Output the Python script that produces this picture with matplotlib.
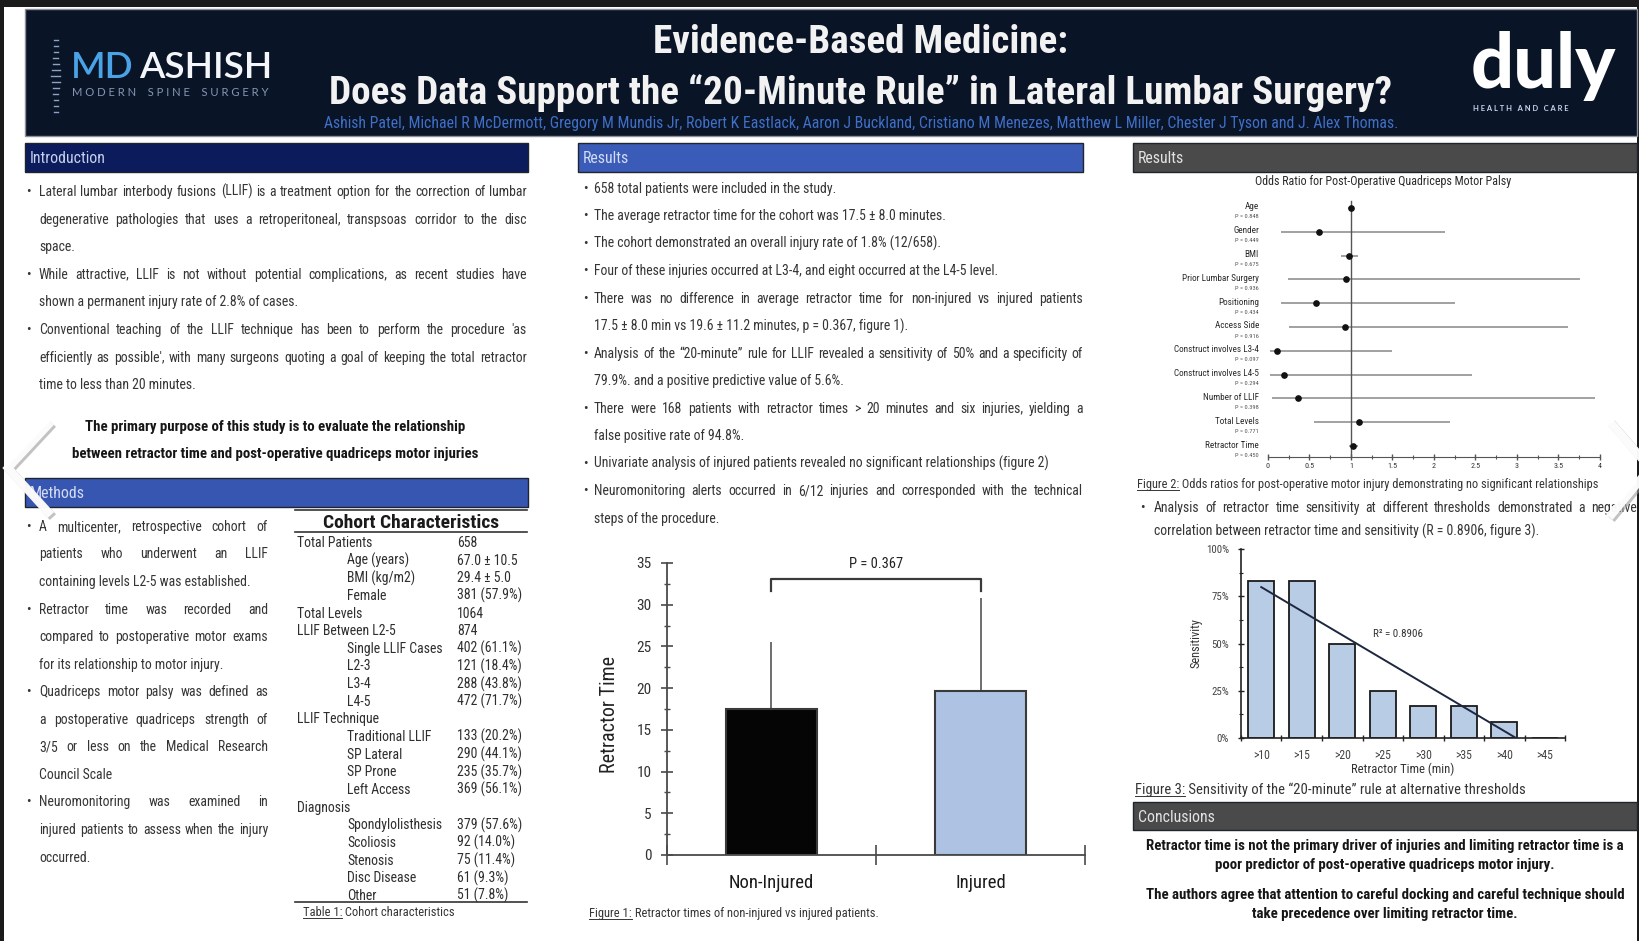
import matplotlib
matplotlib.use('Agg')
import matplotlib.pyplot as plt
import numpy as np
from matplotlib import font_manager as fm
from matplotlib.patches import Rectangle
from matplotlib.lines import Line2D
from matplotlib.ticker import FuncFormatter
import matplotlib.patheffects as pe

W, H = 1640, 941


def pick(names, fallback='DejaVu Sans'):
    for n in names:
        try:
            fm.findfont(fm.FontProperties(family=n), fallback_to_default=False)
            return n
        except Exception:
            continue
    return fallback


NARROW = pick(['Liberation Sans Narrow', 'Arial Narrow', 'Roboto Condensed', 'Liberation Sans'])
LOGO = pick(['Lato', 'Open Sans', 'Roboto', 'DejaVu Sans'])
plt.rcParams['font.family'] = [NARROW, 'DejaVu Sans']

# ---------------- content ----------------
title_lines = ['Evidence-Based Medicine:',
               'Does Data Support the “20-Minute Rule” in Lateral Lumbar Surgery?']
authors = ('Ashish Patel, Michael R McDermott, Gregory M Mundis Jr, Robert K Eastlack, '
           'Aaron J Buckland, Cristiano M Menezes, Matthew L Miller, Chester J Tyson and J. Alex Thomas.')

# (text, starts with bullet, justified)
intro_text = [
    ('Lateral lumbar interbody fusions (LLIF) is a treatment option for the correction of lumbar', True, True),
    ('degenerative pathologies that uses a retroperitoneal, transpsoas corridor to the disc', False, True),
    ('space.', False, False),
    ('While attractive, LLIF is not without potential complications, as recent studies have', True, True),
    ('shown a permanent injury rate of 2.8% of cases.', False, False),
    ("Conventional teaching of the LLIF technique has been to perform the procedure 'as", True, True),
    ("efficiently as possible', with many surgeons quoting a goal of keeping the total retractor", False, True),
    ('time to less than 20 minutes.', False, False),
]
purpose_text = ['The primary purpose of this study is to evaluate the relationship',
                'between retractor time and post-operative quadriceps motor injuries']

methods_text = [
    ('A multicenter, retrospective cohort of', True, True),
    ('patients who underwent an LLIF', False, True),
    ('containing levels L2-5 was established.', False, False),
    ('Retractor time was recorded and', True, True),
    ('compared to postoperative motor exams', False, True),
    ('for its relationship to motor injury.', False, False),
    ('Quadriceps motor palsy was defined as', True, True),
    ('a postoperative quadriceps strength of', False, True),
    ('3/5 or less on the Medical Research', False, True),
    ('Council Scale', False, False),
    ('Neuromonitoring was examined in', True, True),
    ('injured patients to assess when the injury', False, True),
    ('occurred.', False, False),
]

results_text = [
    ('658 total patients were included in the study.', True, False),
    ('The average retractor time for the cohort was 17.5 ± 8.0 minutes.', True, False),
    ('The cohort demonstrated an overall injury rate of 1.8% (12/658).', True, False),
    ('Four of these injuries occurred at L3-4, and eight occurred at the L4-5 level.', True, False),
    ('There was no difference in average retractor time for non-injured vs injured patients', True, True),
    ('17.5 ± 8.0 min vs 19.6 ± 11.2 minutes, p = 0.367, figure 1).', False, False),
    ('Analysis of the “20-minute” rule for LLIF revealed a sensitivity of 50% and a specificity of', True, True),
    ('79.9%. and a positive predictive value of 5.6%.', False, False),
    ('There were 168 patients with retractor times > 20 minutes and six injuries, yielding a', True, True),
    ('false positive rate of 94.8%.', False, False),
    ('Univariate analysis of injured patients revealed no significant relationships (figure 2)', True, False),
    ('Neuromonitoring alerts occurred in 6/12 injuries and corresponded with the technical', True, True),
    ('steps of the procedure.', False, False),
]

sens_text = [
    ('Analysis of retractor time sensitivity at different thresholds demonstrated a negative', True, True),
    ('correlation between retractor time and sensitivity (R = 0.8906, figure 3).', False, False),
]

conclusion_text = ['Retractor time is not the primary driver of injuries and limiting retractor time is a',
                   'poor predictor of post-operative quadriceps motor injury.',
                   'The authors agree that attention to careful docking and careful technique should',
                   'take precedence over limiting retractor time.']

# Table 1: cohort characteristics
cohort_labels = ['Total Patients', 'Age (years)', 'BMI (kg/m2)', 'Female', 'Total Levels',
                 'LLIF Between L2-5', 'Single LLIF Cases', 'L2-3', 'L3-4', 'L4-5', 'LLIF Technique',
                 'Traditional LLIF', 'SP Lateral', 'SP Prone', 'Left Access', 'Diagnosis',
                 'Spondylolisthesis', 'Scoliosis', 'Stenosis', 'Disc Disease', 'Other']
cohort_indent = [0, 1, 1, 1, 0, 0, 1, 1, 1, 1, 0, 1, 1, 1, 1, 0, 1, 1, 1, 1, 1]
cohort_values = ['658', '67.0 ± 10.5', '29.4 ± 5.0', '381 (57.9%)', '1064', '874',
                 '402 (61.1%)', '121 (18.4%)', '288 (43.8%)', '472 (71.7%)', '',
                 '133 (20.2%)', '290 (44.1%)', '235 (35.7%)', '369 (56.1%)', '',
                 '379 (57.6%)', '92 (14.0%)', '75 (11.4%)', '61 (9.3%)', '51 (7.8%)']

# Figure 1: retractor time by group
groups = ['Non-Injured', 'Injured']
mean_time = [17.5, 19.6]
sd_time = [8.0, 11.2]
p_label = 'P = 0.367'

# Figure 2: odds ratios
or_labels = ['Age', 'Gender', 'BMI', 'Prior Lumbar Surgery', 'Positioning', 'Access Side',
             'Construct involves L3-4', 'Construct involves L4-5', 'Number of LLIF',
             'Total Levels', 'Retractor Time']
or_p = ['P = 0.848', 'P = 0.449', 'P = 0.675', 'P = 0.936', 'P = 0.434', 'P = 0.916',
        'P = 0.097', 'P = 0.294', 'P = 0.398', 'P = 0.771', 'P = 0.450']
or_est = [1.00, 0.62, 0.98, 0.94, 0.58, 0.93, 0.11, 0.19, 0.36, 1.10, 1.02]
or_lo = [0.96, 0.16, 0.88, 0.24, 0.16, 0.25, 0.02, 0.03, 0.05, 0.56, 0.97]
or_hi = [1.04, 2.13, 1.09, 3.76, 2.25, 3.62, 1.49, 2.46, 3.94, 2.19, 1.08]

# Figure 3: sensitivity by threshold
thresholds = ['>10', '>15', '>20', '>25', '>30', '>35', '>40', '>45']
sensitivity = [83.3, 83.3, 50.0, 25.0, 16.7, 16.7, 8.3, 0.0]
r2_label = 'R² = 0.8906'

# ---------------- helpers ----------------
fig = plt.figure(figsize=(W / 100, H / 100), dpi=100)
fig.patch.set_facecolor('white')
R = fig.canvas.get_renderer()

TXT = '#353535'


def fx(x):
    return x / W


def fy(y):
    return 1 - y / H


def props(size, family=NARROW, weight='normal'):
    return fm.FontProperties(family=[family, 'DejaVu Sans'], size=size, weight=weight)


def measure(s, size, family=NARROW, weight='normal'):
    w, h, d = R.get_text_width_height_descent(s, props(size, family, weight), ismath=False)
    return w


def fit(s, width, family=NARROW, weight='normal'):
    return 20.0 * width / measure(s, 20.0, family, weight)


def put(x, y, s, size, family=NARROW, weight='normal', color=TXT, ha='left', baseline=None, **kw):
    b = baseline if baseline is not None else y + 0.36 * size * 100 / 72
    return fig.text(fx(x), fy(b), s, fontproperties=props(size, family, weight),
                    color=color, ha=ha, va='baseline', **kw)


def justify(x0, x1, y, s, size, family=NARROW, weight='normal', color=TXT):
    words = s.split()
    ws = [measure(w, size, family, weight) for w in words]
    gap = (x1 - x0 - sum(ws)) / max(len(words) - 1, 1)
    x = x0
    for w, wd in zip(words, ws):
        put(x, y, w, size, family=family, weight=weight, color=color)
        x += wd + gap


def paragraph(lines, ys, xb, xt, xr, size, color=TXT):
    for (s, bullet, just), y in zip(lines, ys):
        if bullet:
            put(xb, y, '•', size, color=color)
        if just:
            justify(xt, xr, y, s, size, color=color)
        else:
            put(xt, y, s, size, color=color)


def rect(x0, y0, x1, y1, fc, ec='none', lw=0.0, z=0.5):
    fig.add_artist(Rectangle((fx(x0), fy(y1)), (x1 - x0) / W, (y1 - y0) / H,
                             transform=fig.transFigure, facecolor=fc, edgecolor=ec,
                             linewidth=lw, zorder=z))


def hline(x0, x1, y, color='#333333', lw=1.0, z=2):
    fig.add_artist(Line2D([fx(x0), fx(x1)], [fy(y), fy(y)], transform=fig.transFigure,
                          color=color, lw=lw, zorder=z))


def caption(x, y, prefix, rest, size, color=TXT):
    put(x, y, prefix, size, color=color)
    w = measure(prefix, size)
    base = y + 0.36 * size * 100 / 72
    hline(x, x + w, base + 1.8, color=color, lw=0.7)
    put(x + w, y, rest, size, color=color)


def axes_px(x0, y0, x1, y1):
    ax = fig.add_axes([x0 / W, 1 - y1 / H, (x1 - x0) / W, (y1 - y0) / H])
    ax.set_facecolor('none')
    return ax


# ---------------- frame and header ----------------
rect(0, 0, W, 7, '#1b1b1b', z=0.2)
rect(0, 0, 4, H, '#1b1b1b', z=0.2)
rect(W - 3, 0, W, H, '#1b1b1b', z=0.2)
rect(25, 9, 1637, 136, '#0a1427', ec='#8a909c', lw=1.0, z=0.3)

tsize = fit(title_lines[1], 1059, weight='bold')
put(861, 39, title_lines[0], tsize, weight='bold', color='#f2f2f2', ha='center')
put(861, 90, title_lines[1], tsize, weight='bold', color='#f2f2f2', ha='center')
put(861, 122, authors, fit(authors, 1073), color='#3f6fc6', ha='center')

# MD ASHISH logo
lsize = fit('MDASHISH', 196, family=LOGO, weight='semibold')
put(71, 0, 'MD', lsize, family=LOGO, weight='semibold', color='#4aa3e6', baseline=78)
put(71 + measure('MD', lsize, LOGO, 'semibold') + 5, 0, 'ASHISH', lsize, family=LOGO,
    weight='semibold', color='#f4f6fa', baseline=78)
sub = 'M O D E R N    S P I N E    S U R G E R Y'
put(72, 92, sub, fit(sub, 198, family=LOGO), family=LOGO, color='#8596b4')
for k, yy in enumerate(np.linspace(40, 112, 13)):
    half = [1.5, 1.5, 2, 2.5, 3, 4, 4.5, 4, 3, 2.5, 2, 1.5, 1.5][k]
    fig.add_artist(Line2D([fx(56 - half), fx(56 + half)], [fy(yy), fy(yy)],
                          transform=fig.transFigure, color='#8ea2c4', lw=1.0, zorder=2))

# duly logo
dsize = fit('duly', 146, family=LOGO, weight='black')
put(1471, 0, 'duly', dsize, family=LOGO, weight='black', color='#ffffff', baseline=88)
hc = 'H E A L T H   A N D   C A R E'
put(1473, 108, hc, fit(hc, 94, family=LOGO, weight='bold'), family=LOGO, weight='bold', color='#c8d6ee')

# ---------------- section bars ----------------
hsize = fit('Introduction', 76)


def section(x0, x1, y0, y1, label, fc, tc):
    rect(x0, y0, x1, y1, fc, ec='#20242e', lw=1.0)
    put(x0 + 5, (y0 + y1) / 2, label, hsize, color=tc)


section(25, 528, 143, 172, 'Introduction', '#0b1b5c', '#c6d0ec')
section(25, 528, 478, 507, 'Methods', '#3656b2', '#d4dcf2')
section(578, 1083, 143, 172, 'Results', '#3a5bb8', '#d4dcf2')
section(1133, 1637, 143, 172, 'Results', '#4a4a4a', '#e2e2e2')
section(1133, 1637, 802, 830, 'Conclusions', '#4a4a4a', '#e2e2e2')

# ---------------- body text ----------------
body = fit(intro_text[0][0], 478)
paragraph(intro_text, 191 + 27.6 * np.arange(len(intro_text)), 26, 39, 527, body)
psize = fit(purpose_text[0], 381, weight='bold')
for s, y in zip(purpose_text, [426, 453]):
    put(275, y, s, psize, weight='bold', color='#161616', ha='center')

paragraph(methods_text, 526 + 27.55 * np.arange(len(methods_text)), 26, 39, 268, body)
paragraph(results_text, 188 + 27.5 * np.arange(len(results_text)), 583, 594, 1083, body)
paragraph(sens_text, [507, 531], 1140, 1154, 1637, body)

csize = fit(conclusion_text[0], 478, weight='bold')
for s, y in zip(conclusion_text, [845, 864, 894, 913]):
    put(1385, y, s, csize, weight='bold', color='#161616', ha='center')

# ---------------- Table 1 ----------------
hline(295, 527, 510, lw=1.2)
put(411, 521, 'Cohort Characteristics', fit('Cohort Characteristics', 175, weight='bold'),
    weight='bold', color='#1a1a1a', ha='center')
hline(295, 527, 532, lw=1.2)
tb = fit('Single LLIF Cases', 96)
for i, (lab, lev, val) in enumerate(zip(cohort_labels, cohort_indent, cohort_values)):
    y = 542 + 17.65 * i
    put(297 if lev == 0 else 347, y, lab, tb, color='#2e2e2e')
    if val:
        put(457, y, val, tb, color='#2e2e2e')
hline(295, 527, 902, lw=1.2)
cap = fit('Figure 1: Retractor times of non-injured vs injured patients.', 288)
caption(303, 912, 'Table 1:', ' Cohort characteristics', cap)

# ---------------- Figure 1: bar chart ----------------
ax1 = axes_px(667, 563, 1085, 855)
xpos = np.arange(len(groups)) + 0.5
ax1.bar(xpos, mean_time, width=0.44, color=['#050505', '#aec3e3'],
        edgecolor='#3a3a3a', linewidth=1.5, zorder=2)
ax1.errorbar(xpos, mean_time, yerr=[np.zeros(len(sd_time)), sd_time], fmt='none',
             ecolor='#555555', elinewidth=1.2, capsize=0, zorder=1)
top = max(m + s for m, s in zip(mean_time, sd_time))
ax1.plot([xpos[0], xpos[0], xpos[1], xpos[1]], [top + 0.8, top + 2.3, top + 2.3, top + 0.8],
         color='#3a3a3a', lw=1.6, clip_on=False)
ax1.text(xpos.mean(), top + 4.1, p_label, ha='center', va='center',
         fontsize=fit(p_label, 54), color='#222222')
ax1.set_xlim(0, 2)
ax1.set_ylim(0, 35)
for sp in ['top', 'right']:
    ax1.spines[sp].set_visible(False)
for sp in ['left', 'bottom']:
    ax1.spines[sp].set_color('#4a4a4a')
    ax1.spines[sp].set_linewidth(1.3)
ax1.set_yticks(np.arange(0, 36, 5))
ax1.set_yticks(np.arange(2.5, 35, 5), minor=True)
ax1.set_xticks([0, 1, 2])
ax1.set_xticklabels([])
ax1.set_xticks(xpos, minor=True)
ax1.set_xticklabels(groups, minor=True)
ax1.tick_params(axis='y', which='major', direction='inout', length=8, width=1.2,
                color='#4a4a4a', labelsize=fit('35', 15), labelcolor='#333333', pad=7)
ax1.tick_params(axis='y', which='minor', direction='inout', length=5, width=1.0, color='#4a4a4a')
ax1.tick_params(axis='x', which='major', direction='inout', length=14, width=1.2, color='#4a4a4a')
ax1.tick_params(axis='x', which='minor', length=0, pad=14, labelsize=fit('Non-Injured', 85),
                labelcolor='#1a1a1a')
ax1.set_ylabel('Retractor Time', fontsize=fit('Retractor Time', 117), color='#222222')
ax1.yaxis.set_label_coords(-0.115, 0.48)
caption(589, 913, 'Figure 1:', ' Retractor times of non-injured vs injured patients.', cap)

# ---------------- Figure 2: odds ratios ----------------
ftitle = 'Odds Ratio for Post-Operative Quadriceps Motor Palsy'
put(1383, 181, ftitle, fit(ftitle, 257), color='#2a2a2a', ha='center')
ax2 = axes_px(1268, 192, 1600, 457)
rows = np.arange(len(or_labels))
ax2.hlines(rows, or_lo, or_hi, color='#9a9a9a', lw=1.3, zorder=1)
ax2.plot(or_est, rows, 'o', color='#111111', ms=3.8, zorder=3)
ax2.plot([1, 1], [-0.3, 10.46], color='#555555', lw=1.0, zorder=2)
ax2.set_xlim(0, 4)
ax2.set_ylim(10.46, -0.67)
for sp in ['top', 'right', 'left']:
    ax2.spines[sp].set_visible(False)
ax2.spines['bottom'].set_color('#555555')
ax2.set_yticks([])
ax2.set_xticks(np.arange(0, 4.01, 0.5))
ax2.set_xticks(np.arange(0.25, 4, 0.5), minor=True)
ax2.xaxis.set_major_formatter(FuncFormatter(lambda v, p: '%g' % v))
ax2.tick_params(axis='x', which='major', direction='inout', length=5, width=1.0, color='#555555',
                labelsize=fit('3.5', 10), labelcolor='#333333', pad=2)
ax2.tick_params(axis='x', which='minor', direction='inout', length=3, width=0.8, color='#555555')
lab_size = fit('Prior Lumbar Surgery', 76)
p_size = fit('P = 0.936', 24)
for i, (lab, pv) in enumerate(zip(or_labels, or_p)):
    ax2.annotate(lab, xy=(0, i), xycoords=('axes fraction', 'data'), xytext=(-9, 1),
                 textcoords='offset pixels', ha='right', va='center', fontsize=lab_size,
                 color='#2a2a2a', annotation_clip=False)
    ax2.annotate(pv, xy=(0, i), xycoords=('axes fraction', 'data'), xytext=(-9, -9),
                 textcoords='offset pixels', ha='right', va='center', fontsize=p_size,
                 color='#555555', annotation_clip=False)
caption(1137, 484, 'Figure 2:',
        ' Odds ratios for post-operative motor injury demonstrating no significant relationships',
        fit('Figure 2: Odds ratios for post-operative motor injury demonstrating no significant relationships', 461))

# ---------------- Figure 3: sensitivity ----------------
ax3 = axes_px(1241, 549, 1565, 738)
xs = np.arange(1, len(thresholds) + 1)
ax3.bar(xs, sensitivity, width=0.65, color='#b9cce6', edgecolor='#1a1a1a', linewidth=1.3, zorder=2)
coef = np.polyfit(xs, sensitivity, 1)
ax3.plot([xs[0], xs[-1]], np.polyval(coef, [xs[0], xs[-1]]), color='#1e2740', lw=1.4, zorder=3)
ax3.text(3.75, 55, r2_label, fontsize=fit(r2_label, 50), color='#333333', va='center')
ax3.set_xlim(0.5, len(thresholds) + 0.5)
ax3.set_ylim(0, 100)
for sp in ['top', 'right']:
    ax3.spines[sp].set_visible(False)
for sp in ['left', 'bottom']:
    ax3.spines[sp].set_color('#222222')
    ax3.spines[sp].set_linewidth(1.2)
ax3.set_yticks([0, 25, 50, 75, 100])
ax3.set_yticks(np.arange(12.5, 100, 25), minor=True)
ax3.yaxis.set_major_formatter(FuncFormatter(lambda v, p: '%d%%' % v))
ax3.set_xticks(np.arange(0.5, len(thresholds) + 0.6, 1))
ax3.set_xticklabels([])
ax3.set_xticks(xs, minor=True)
ax3.set_xticklabels(thresholds, minor=True)
ax3.tick_params(axis='y', which='major', direction='inout', length=5, width=1.0, color='#222222',
                labelsize=fit('100%', 23), labelcolor='#444444', pad=6)
ax3.tick_params(axis='y', which='minor', direction='inout', length=3, width=0.8, color='#222222')
ax3.tick_params(axis='x', which='major', direction='inout', length=5, width=1.0, color='#222222')
ax3.tick_params(axis='x', which='minor', length=0, pad=8, labelsize=fit('>45', 17),
                labelcolor='#444444')
ax3.set_xlabel('Retractor Time (min)', fontsize=fit('Retractor Time (min)', 103), color='#333333')
ax3.xaxis.set_label_coords(0.5, -0.13)
ax3.set_ylabel('Sensitivity', fontsize=fit('Sensitivity', 50), color='#333333')
ax3.yaxis.set_label_coords(-0.12, 0.5)
caption(1135, 789, 'Figure 3:', ' Sensitivity of the “20-minute” rule at alternative thresholds',
        fit('Figure 3: Sensitivity of the “20-minute” rule at alternative thresholds', 388))

# ---------------- slide navigation chevrons ----------------
shadow = [pe.SimpleLineShadow(offset=(1.5, -1.5), shadow_color='#9a9a9a', alpha=0.6), pe.Normal()]
for pts in ([(48, 425), (8, 468), (48, 512)], [(1612, 424), (1650, 468), (1612, 514)]):
    xs_c = [fx(p[0]) for p in pts]
    ys_c = [fy(p[1]) for p in pts]
    fig.add_artist(Line2D(xs_c, ys_c, transform=fig.transFigure, color='white', lw=6,
                          alpha=0.95, solid_joinstyle='miter', zorder=10, path_effects=shadow))

fig.savefig('out.png', dpi=100, facecolor='white')
